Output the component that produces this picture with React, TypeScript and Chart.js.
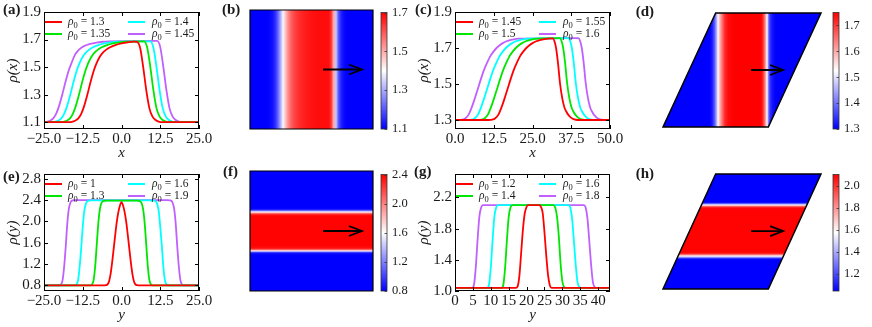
import React, { useEffect, useRef } from 'react';
import { Chart, registerables } from 'chart.js';

Chart.register(...registerables);

const FONT = "'Liberation Serif', 'Times New Roman', serif";
const INK = '#1a1a1a';
const LINE_COLORS = ['#ff0000', '#00e600', '#00ffff', '#c060ff'];

// ---------------- panel (a) ----------------
const aXTicks = [-25, -12.5, 0, 12.5, 25];
const aXTickLabels = ['−25.0', '−12.5', '0.0', '12.5', '25.0'];
const aYTicks = [1.1, 1.3, 1.5, 1.7, 1.9];
const aYTickLabels = ['1.1', '1.3', '1.5', '1.7', '1.9'];
const aLegend = ['1.3', '1.35', '1.4', '1.45'];
const aRho130 = [[-25, 1.1], [-17, 1.1], [-16, 1.102], [-15, 1.11], [-14, 1.125], [-13, 1.16], [-12, 1.22], [-11, 1.3], [-10, 1.39], [-9, 1.47], [-8, 1.53], [-7, 1.575], [-6, 1.605], [-5, 1.625], [-4, 1.64], [-2, 1.66], [0, 1.672], [2, 1.68], [4, 1.685], [5, 1.683], [6, 1.64], [7, 1.5], [8, 1.33], [9, 1.2], [10, 1.14], [11, 1.115], [12, 1.104], [13, 1.1], [25, 1.1]];
const aRho135 = [[-25, 1.1], [-19.7, 1.1], [-18.7, 1.102], [-17.7, 1.11], [-16.7, 1.125], [-15.7, 1.16], [-14.7, 1.22], [-13.7, 1.3], [-12.7, 1.39], [-11.7, 1.47], [-10.7, 1.53], [-9.7, 1.575], [-8.7, 1.605], [-7.7, 1.625], [-6.7, 1.64], [-4.7, 1.66], [-2.7, 1.672], [-0.7, 1.68], [1.3, 1.685], [7.3, 1.686], [8.3, 1.64], [9.3, 1.5], [10.3, 1.33], [11.3, 1.2], [12.3, 1.14], [13.3, 1.115], [14.3, 1.104], [15.3, 1.1], [25, 1.1]];
const aRho140 = [[-25, 1.1], [-22.5, 1.1], [-21.5, 1.102], [-20.5, 1.11], [-19.5, 1.125], [-18.5, 1.16], [-17.5, 1.22], [-16.5, 1.3], [-15.5, 1.39], [-14.5, 1.47], [-13.5, 1.53], [-12.5, 1.575], [-11.5, 1.605], [-10.5, 1.625], [-9.5, 1.64], [-7.5, 1.66], [-5.5, 1.672], [-3.5, 1.68], [-1.5, 1.685], [9.3, 1.687], [10.3, 1.64], [11.3, 1.5], [12.3, 1.33], [13.3, 1.2], [14.3, 1.14], [15.3, 1.115], [16.3, 1.104], [17.3, 1.1], [25, 1.1]];
const aRho145 = [[-25, 1.1], [-24.1, 1.102], [-23.1, 1.11], [-22.1, 1.125], [-21.1, 1.16], [-20.1, 1.22], [-19.1, 1.3], [-18.1, 1.39], [-17.1, 1.47], [-16.1, 1.53], [-15.1, 1.585], [-14.1, 1.618], [-13.1, 1.638], [-12.1, 1.652], [-10.1, 1.668], [-8.1, 1.678], [-6.1, 1.684], [-4.1, 1.687], [11.5, 1.69], [12.5, 1.645], [13.5, 1.5], [14.5, 1.33], [15.5, 1.2], [16.5, 1.14], [17.5, 1.115], [18.5, 1.104], [19.5, 1.1], [25, 1.1]];

// ---------------- panel (b) ----------------
const bProfileX = [[-25, 1.1], [-18.6, 1.1], [-17.6, 1.102], [-16.6, 1.11], [-15.6, 1.125], [-14.6, 1.16], [-13.6, 1.22], [-12.6, 1.3], [-11.6, 1.39], [-10.6, 1.47], [-9.6, 1.53], [-8.6, 1.575], [-7.6, 1.605], [-6.6, 1.625], [-5.6, 1.64], [-3.6, 1.66], [-1.6, 1.672], [0.4, 1.68], [2.4, 1.685], [7, 1.685], [8, 1.64], [9, 1.5], [10, 1.33], [11, 1.2], [12, 1.14], [13, 1.115], [14, 1.104], [15, 1.1], [25, 1.1]];
const bRange = [1.1, 1.7];
const bCbarTicks = [1.1, 1.3, 1.5, 1.7];
const bCbarLabels = ['1.1', '1.3', '1.5', '1.7'];
const bArrow = [4.7, 0, 20.5, 0];

// ---------------- panel (c) ----------------
const cXTicks = [0, 12.5, 25, 37.5, 50];
const cXTickLabels = ['0.0', '12.5', '25.0', '37.5', '50.0'];
const cYTicks = [1.3, 1.5, 1.7, 1.9];
const cYTickLabels = ['1.3', '1.5', '1.7', '1.9'];
const cLegend = ['1.45', '1.5', '1.55', '1.6'];
const cRho145 = [[0, 1.3], [11, 1.3], [12, 1.302], [13, 1.31], [14, 1.33], [15, 1.37], [16, 1.42], [17, 1.475], [18, 1.53], [19, 1.58], [20, 1.62], [21, 1.655], [22, 1.68], [23, 1.7], [24, 1.715], [25, 1.727], [26, 1.736], [28, 1.746], [30, 1.752], [31.5, 1.754], [32, 1.742], [32.6, 1.7], [33.2, 1.62], [33.9, 1.5], [34.6, 1.42], [35.3, 1.37], [35.8, 1.35], [36.5, 1.33], [37.5, 1.312], [38.5, 1.303], [39.5, 1.3], [50, 1.3]];
const cRho150 = [[0, 1.3], [7.6, 1.3], [8.6, 1.302], [9.6, 1.31], [10.6, 1.33], [11.6, 1.37], [12.6, 1.42], [13.6, 1.475], [14.6, 1.53], [15.6, 1.58], [16.6, 1.62], [17.6, 1.655], [18.6, 1.68], [19.6, 1.7], [20.6, 1.715], [21.6, 1.727], [22.6, 1.736], [24.6, 1.746], [26.6, 1.752], [33.8, 1.755], [34.3, 1.742], [34.9, 1.7], [35.5, 1.62], [36.2, 1.5], [36.9, 1.42], [37.6, 1.37], [38.1, 1.35], [38.8, 1.33], [39.8, 1.312], [40.8, 1.303], [41.8, 1.3], [50, 1.3]];
const cRho155 = [[0, 1.3], [4.4, 1.3], [5.4, 1.302], [6.4, 1.31], [7.4, 1.33], [8.4, 1.37], [9.4, 1.42], [10.4, 1.475], [11.4, 1.53], [12.4, 1.58], [13.4, 1.62], [14.4, 1.655], [15.4, 1.68], [16.4, 1.7], [17.4, 1.715], [18.4, 1.727], [19.4, 1.736], [21.4, 1.746], [23.4, 1.752], [36.6, 1.755], [37.1, 1.742], [37.7, 1.7], [38.3, 1.62], [39.0, 1.5], [39.7, 1.42], [40.4, 1.37], [40.9, 1.35], [41.6, 1.33], [42.6, 1.312], [43.6, 1.303], [44.6, 1.3], [50, 1.3]];
const cRho160 = [[0, 1.3], [1.4, 1.3], [2.4, 1.302], [3.4, 1.31], [4.4, 1.33], [5.4, 1.37], [6.4, 1.42], [7.4, 1.475], [8.4, 1.53], [9.4, 1.58], [10.4, 1.62], [11.4, 1.655], [12.4, 1.68], [13.4, 1.7], [14.4, 1.715], [15.4, 1.727], [16.4, 1.736], [18.4, 1.746], [20.4, 1.752], [39.8, 1.755], [40.3, 1.742], [40.9, 1.7], [41.5, 1.62], [42.2, 1.5], [42.9, 1.42], [43.6, 1.37], [44.1, 1.35], [44.8, 1.33], [45.8, 1.312], [46.8, 1.303], [47.8, 1.3], [50, 1.3]];

// ---------------- panel (d) ----------------
const dProfileX = [[-12.5, 1.3], [9.5, 1.3], [10.8, 1.32], [12, 1.38], [13, 1.46], [13.6, 1.525], [14.5, 1.59], [15.5, 1.645], [16.9, 1.715], [18.5, 1.74], [21, 1.752], [33.5, 1.755], [34.3, 1.74], [34.9, 1.715], [35.9, 1.64], [36.9, 1.525], [37.4, 1.44], [37.8, 1.38], [38.5, 1.34], [39.5, 1.315], [41, 1.3], [62.5, 1.3]];
const dRange = [1.3, 1.75];
const dCbarTicks = [1.3, 1.4, 1.5, 1.6, 1.7];
const dCbarLabels = ['1.3', '1.4', '1.5', '1.6', '1.7'];
const dCell = [[-12.5, 0], [37.5, 0], [62.5, 43.3], [12.5, 43.3]];
const dArrow = [29.3, 21.65, 44.5, 21.65];

// ---------------- panel (e) ----------------
const eYTicks = [0.8, 1.2, 1.6, 2.0, 2.4, 2.8];
const eYTickLabels = ['0.8', '1.2', '1.6', '2.0', '2.4', '2.8'];
const eLegend = ['1', '1.3', '1.6', '1.9'];
const eRho10 = [[-25, 0.8], [-6, 0.8], [-5, 0.805], [-4.5, 0.82], [-4, 0.88], [-3.5, 1.02], [-3, 1.24], [-2.5, 1.5], [-2, 1.76], [-1.5, 2.0], [-1, 2.18], [-0.5, 2.3], [0, 2.36], [0.5, 2.3], [1, 2.18], [1.5, 2.0], [2, 1.76], [2.5, 1.5], [3, 1.24], [3.5, 1.02], [4, 0.88], [4.5, 0.82], [5, 0.805], [6, 0.8], [25, 0.8]];
const eRho13 = [[-25, 0.8], [-10, 0.8], [-9.5, 0.82], [-9, 0.9], [-8.5, 1.15], [-8, 1.55], [-7.5, 1.95], [-7, 2.22], [-6.5, 2.34], [-6, 2.38], [-5, 2.39], [5, 2.39], [6, 2.38], [6.5, 2.34], [7, 2.22], [7.5, 1.95], [8, 1.55], [8.5, 1.15], [9, 0.9], [9.5, 0.82], [10, 0.8], [25, 0.8]];
const eRho16 = [[-25, 0.8], [-15, 0.8], [-14.5, 0.82], [-14, 0.9], [-13.5, 1.15], [-13, 1.5], [-12.5, 1.9], [-12, 2.2], [-11.5, 2.33], [-11, 2.38], [-10, 2.395], [10, 2.395], [11, 2.38], [11.5, 2.33], [12, 2.2], [12.5, 1.9], [13, 1.55], [13.5, 1.15], [14, 0.9], [14.5, 0.82], [15, 0.8], [25, 0.8]];
const eRho19 = [[-25, 0.8], [-20, 0.8], [-19.5, 0.82], [-19, 0.9], [-18.5, 1.15], [-18, 1.52], [-17.5, 1.95], [-17, 2.23], [-16.5, 2.35], [-16, 2.39], [-15, 2.4], [15, 2.4], [16, 2.39], [16.5, 2.35], [17, 2.23], [17.5, 1.95], [18, 1.52], [18.5, 1.15], [19, 0.9], [19.5, 0.82], [20, 0.8], [25, 0.8]];

// ---------------- panel (f) ----------------
const fProfileY = [[-25, 0.8], [-10, 0.8], [-9.5, 0.82], [-9, 0.95], [-8.6, 1.3], [-8.3, 1.6], [-8, 1.9], [-7.5, 2.25], [-7, 2.36], [-6, 2.39], [6, 2.39], [6.5, 2.36], [7, 2.25], [7.5, 1.95], [7.9, 1.6], [8.3, 1.3], [8.75, 0.95], [9.2, 0.82], [9.7, 0.8], [25, 0.8]];
const fRange = [0.8, 2.4];
const fCbarTicks = [0.8, 1.2, 1.6, 2.0, 2.4];
const fCbarLabels = ['0.8', '1.2', '1.6', '2.0', '2.4'];
const fArrow = [4.7, 0, 20.5, 0];

// ---------------- panel (g) ----------------
const gXTicks = [0, 5, 10, 15, 20, 25, 30, 35, 40];
const gXTickLabels = ['0', '5', '10', '15', '20', '25', '30', '35', '40'];
const gYTicks = [1.0, 1.4, 1.8, 2.2];
const gYTickLabels = ['1.0', '1.4', '1.8', '2.2'];
const gLegend = ['1.2', '1.4', '1.6', '1.8'];
const gRho12 = [[0, 1.04], [17, 1.04], [17.5, 1.06], [18, 1.2], [18.5, 1.5], [19, 1.8], [19.5, 2.0], [20, 2.08], [20.5, 2.1], [23.5, 2.1], [24, 2.08], [24.5, 2.0], [25, 1.75], [25.5, 1.45], [26, 1.2], [26.5, 1.07], [27, 1.04], [43.3, 1.04]];
const gRho14 = [[0, 1.04], [13, 1.04], [13.5, 1.08], [14, 1.3], [14.5, 1.65], [15, 1.95], [15.5, 2.07], [16, 2.1], [27.5, 2.1], [28, 2.07], [28.5, 1.95], [29, 1.7], [29.5, 1.35], [30, 1.12], [30.5, 1.05], [31, 1.04], [43.3, 1.04]];
const gRho16 = [[0, 1.04], [9, 1.04], [9.5, 1.08], [10, 1.3], [10.5, 1.65], [11, 1.95], [11.5, 2.07], [12, 2.1], [31.7, 2.1], [32.2, 2.07], [32.7, 1.93], [33.2, 1.65], [33.7, 1.35], [34.2, 1.12], [34.7, 1.05], [35.2, 1.04], [43.3, 1.04]];
const gRho18 = [[0, 1.04], [4.8, 1.04], [5.3, 1.08], [5.8, 1.3], [6.3, 1.65], [6.8, 1.95], [7.3, 2.07], [7.8, 2.1], [36, 2.1], [36.5, 2.07], [37, 1.93], [37.5, 1.65], [38, 1.35], [38.5, 1.12], [39, 1.05], [39.5, 1.04], [43.3, 1.04]];

// ---------------- panel (h) ----------------
const hProfileY = [[0, 1.04], [11, 1.04], [11.4, 1.1], [11.9, 1.35], [12.4, 1.575], [12.9, 1.85], [13.3, 2.02], [13.8, 2.09], [14.5, 2.1], [29.6, 2.1], [30.3, 2.09], [30.8, 2.02], [31.2, 1.85], [31.6, 1.575], [32.0, 1.35], [32.4, 1.1], [32.8, 1.04], [43.3, 1.04]];
const hRange = [1.045, 2.105];
const hCbarTicks = [1.2, 1.4, 1.6, 1.8, 2.0];
const hCbarLabels = ['1.2', '1.4', '1.6', '1.8', '2.0'];
const hCell = [[-12.5, 0], [37.5, 0], [62.5, 43.3], [12.5, 43.3]];
const hArrow = [29.3, 21.8, 44.5, 21.8];

// ---------------- helpers ----------------
function bwr(v: number, vmin: number, vmax: number) {
  let t = (v - vmin) / (vmax - vmin);
  t = Math.max(0, Math.min(1, t));
  let r, g, b;
  if (t < 0.5) { r = g = Math.round(510 * t); b = 255; }
  else { r = 255; g = b = Math.round(510 * (1 - t)); }
  return `rgb(${r},${g},${b})`;
}

function frameTicksPlugin(len = 4) {
  return {
    id: 'frameTicks',
    afterDraw(chart: any) {
      const { ctx, chartArea: { left, right, top, bottom }, scales: { x, y } } = chart;
      ctx.save();
      ctx.strokeStyle = '#000';
      ctx.lineWidth = 1;
      ctx.beginPath();
      x.ticks.forEach((t: any) => {
        const px = Math.round(x.getPixelForValue(t.value)) + 0.5;
        ctx.moveTo(px, bottom); ctx.lineTo(px, bottom - len);
        ctx.moveTo(px, top); ctx.lineTo(px, top + len);
      });
      y.ticks.forEach((t: any) => {
        const py = Math.round(y.getPixelForValue(t.value)) + 0.5;
        ctx.moveTo(left, py); ctx.lineTo(left + len, py);
        ctx.moveTo(right, py); ctx.lineTo(right - len, py);
      });
      ctx.stroke();
      ctx.strokeRect(Math.round(left) + 0.5, Math.round(top) + 0.5, Math.round(right - left) - 1, Math.round(bottom - top) - 1);
      ctx.restore();
    },
  };
}

function legendPlugin(labels: string[]) {
  return {
    id: 'rhoLegend',
    afterDatasetsDraw(chart: any) {
      const { ctx, chartArea: { left, top } } = chart;
      ctx.save();
      labels.forEach((lab, i) => {
        const col = Math.floor(i / 2);
        const row = i % 2;
        const hx = left + (col ? 84 : 1);
        const ry = top + (row ? 22 : 10);
        ctx.strokeStyle = LINE_COLORS[i];
        ctx.lineWidth = 2;
        ctx.beginPath(); ctx.moveTo(hx, ry); ctx.lineTo(hx + 17, ry); ctx.stroke();
        let tx = left + (col ? 108 : 24);
        const by = ry + 3;
        ctx.fillStyle = INK;
        ctx.textBaseline = 'alphabetic';
        ctx.textAlign = 'left';
        ctx.font = `italic 11.5px ${FONT}`;
        ctx.fillText('ρ', tx, by);
        tx += ctx.measureText('ρ').width;
        ctx.font = `8.5px ${FONT}`;
        ctx.fillText('0', tx, by + 2.5);
        tx += ctx.measureText('0').width;
        ctx.font = `11.5px ${FONT}`;
        ctx.fillText(' = ' + lab, tx, by);
      });
      ctx.restore();
    },
  };
}

function panelLabelPlugin(text: string, x: number, y: number, align: string) {
  return {
    id: 'panelLabel',
    afterDraw(chart: any) {
      const { ctx } = chart;
      ctx.save();
      ctx.font = `bold 15px ${FONT}`;
      ctx.fillStyle = INK;
      ctx.textAlign = align;
      ctx.textBaseline = 'middle';
      ctx.fillText(text, x, y);
      ctx.restore();
    },
  };
}

function heatPlugin(axis: string, profile: number[][], range: number[], cell: number[][] | null, border: number) {
  return {
    id: 'heat',
    beforeDatasetsDraw(chart: any) {
      const { ctx, scales: { x, y } } = chart;
      const pts = cell || [[x.min, y.min], [x.max, y.min], [x.max, y.max], [x.min, y.max]];
      ctx.save();
      ctx.beginPath();
      pts.forEach(([vx, vy], i) => {
        const px = x.getPixelForValue(vx);
        const py = y.getPixelForValue(vy);
        if (i === 0) ctx.moveTo(px, py); else ctx.lineTo(px, py);
      });
      ctx.closePath();
      const sc = axis === 'x' ? x : y;
      const p0 = sc.getPixelForValue(profile[0][0]);
      const p1 = sc.getPixelForValue(profile[profile.length - 1][0]);
      const grad = axis === 'x' ? ctx.createLinearGradient(p0, 0, p1, 0) : ctx.createLinearGradient(0, p0, 0, p1);
      profile.forEach(([pos, val]) => {
        const off = (sc.getPixelForValue(pos) - p0) / (p1 - p0);
        grad.addColorStop(Math.max(0, Math.min(1, off)), bwr(val, range[0], range[1]));
      });
      ctx.fillStyle = grad;
      ctx.fill();
      ctx.strokeStyle = '#000';
      ctx.lineWidth = border;
      ctx.lineJoin = 'miter';
      ctx.stroke();
      ctx.restore();
    },
  };
}

function arrowPlugin(a: number[]) {
  return {
    id: 'arrow',
    afterDatasetsDraw(chart: any) {
      const { ctx, scales: { x, y } } = chart;
      const x0 = x.getPixelForValue(a[0]), y0 = y.getPixelForValue(a[1]);
      const x1 = x.getPixelForValue(a[2]), y1 = y.getPixelForValue(a[3]);
      const ang = Math.atan2(y1 - y0, x1 - x0);
      const hl = 13, hw = 5;
      ctx.save();
      ctx.strokeStyle = '#000';
      ctx.lineWidth = 1.8;
      ctx.beginPath(); ctx.moveTo(x0, y0); ctx.lineTo(x1, y1); ctx.stroke();
      ctx.beginPath();
      ctx.moveTo(x1 - hl * Math.cos(ang) + hw * Math.sin(ang), y1 - hl * Math.sin(ang) - hw * Math.cos(ang));
      ctx.lineTo(x1, y1);
      ctx.lineTo(x1 - hl * Math.cos(ang) - hw * Math.sin(ang), y1 - hl * Math.sin(ang) + hw * Math.cos(ang));
      ctx.stroke();
      ctx.restore();
    },
  };
}

function cbarPlugin(range: number[]) {
  return {
    id: 'cbar',
    beforeDatasetsDraw(chart: any) {
      const { ctx, chartArea: { left, right, top, bottom }, scales: { y } } = chart;
      const [vmin, vmax] = range;
      const pb = y.getPixelForValue(vmin), pt = y.getPixelForValue(vmax);
      const g = ctx.createLinearGradient(0, pb, 0, pt);
      g.addColorStop(0, bwr(vmin, vmin, vmax));
      g.addColorStop(0.5, bwr((vmin + vmax) / 2, vmin, vmax));
      g.addColorStop(1, bwr(vmax, vmin, vmax));
      ctx.save();
      ctx.fillStyle = g;
      ctx.fillRect(left, top, right - left, bottom - top);
      ctx.strokeStyle = '#333';
      ctx.lineWidth = 0.8;
      ctx.strokeRect(left, top, right - left, bottom - top);
      ctx.beginPath();
      y.ticks.forEach((t: any) => {
        const py = Math.round(y.getPixelForValue(t.value)) + 0.5;
        ctx.moveTo(right, py); ctx.lineTo(right - 2.5, py);
      });
      ctx.stroke();
      ctx.restore();
    },
  };
}

const tickFont = { family: FONT, size: 15 };
const titleFont = { family: FONT, size: 15, style: 'italic' as const };

function lineConfig(s: any): any {
  return {
    type: 'line',
    data: {
      datasets: s.series.map((pts: number[][], i: number) => ({
        data: pts.map(([x, y]) => ({ x, y })),
        borderColor: LINE_COLORS[i],
        borderWidth: 1.8,
        pointRadius: 0,
        cubicInterpolationMode: 'monotone',
        fill: false,
      })),
    },
    options: {
      responsive: false,
      animation: false,
      events: [],
      layout: { padding: { left: 0, top: 10, right: 16, bottom: 0 } },
      plugins: { legend: { display: false }, tooltip: { enabled: false } },
      scales: {
        x: {
          type: 'linear', min: s.xMin, max: s.xMax,
          afterBuildTicks: (sc: any) => { sc.ticks = s.xTicks.map((v: number) => ({ value: v })); },
          afterFit: (sc: any) => { sc.height = 34; },
          grid: { display: false, drawTicks: false },
          border: { display: false },
          ticks: { autoSkip: false, maxRotation: 0, padding: 1, font: tickFont, color: INK, callback: (_v: any, i: number) => s.xLabels[i] },
          title: { display: true, text: s.xTitle, font: titleFont, color: INK, padding: { top: 0, bottom: 1 } },
        },
        y: {
          type: 'linear', min: s.yMin, max: s.yMax,
          afterBuildTicks: (sc: any) => { sc.ticks = s.yTicks.map((v: number) => ({ value: v })); },
          afterFit: (sc: any) => { sc.width = 44; },
          grid: { display: false, drawTicks: false },
          border: { display: false },
          ticks: { autoSkip: false, padding: 3, font: tickFont, color: INK, callback: (_v: any, i: number) => s.yLabels[i] },
          title: { display: true, text: s.yTitle, font: titleFont, color: INK, padding: { top: 4, bottom: 0 } },
        },
      },
    },
    plugins: [legendPlugin(s.legend), frameTicksPlugin(4), panelLabelPlugin(s.label, s.labelX, s.labelY, 'left')],
  };
}

function heatConfig(s: any): any {
  return {
    type: 'scatter',
    data: { datasets: [] },
    options: {
      responsive: false,
      animation: false,
      events: [],
      layout: { padding: s.pad },
      plugins: { legend: { display: false }, tooltip: { enabled: false } },
      scales: {
        x: { type: 'linear', display: false, min: s.xMin, max: s.xMax },
        y: { type: 'linear', display: false, min: s.yMin, max: s.yMax },
      },
    },
    plugins: [
      heatPlugin(s.axis, s.profile, s.range, s.cell, s.border),
      arrowPlugin(s.arrow),
      panelLabelPlugin(s.label, s.labelX, s.labelY, s.labelAlign),
    ],
  };
}

function cbarConfig(s: any): any {
  return {
    type: 'scatter',
    data: { datasets: [] },
    options: {
      responsive: false,
      animation: false,
      events: [],
      layout: { padding: s.pad },
      plugins: { legend: { display: false }, tooltip: { enabled: false } },
      scales: {
        x: { type: 'linear', display: false, min: 0, max: 1 },
        y: {
          type: 'linear', position: 'right', min: s.range[0], max: s.range[1],
          afterBuildTicks: (sc: any) => { sc.ticks = s.ticks.map((v: number) => ({ value: v })); },
          afterFit: (sc: any) => { sc.width = s.axisW; },
          grid: { display: false, drawTicks: false },
          border: { display: false },
          ticks: { autoSkip: false, padding: 5, font: { family: FONT, size: 12.5 }, color: INK, callback: (_v: any, i: number) => s.labels[i] },
        },
      },
    },
    plugins: [cbarPlugin(s.range)],
  };
}

function ChartBox({ left, top, width, height, config }: any) {
  const ref = useRef<HTMLCanvasElement | null>(null);
  useEffect(() => {
    const chart = new Chart(ref.current as HTMLCanvasElement, config());
    return () => chart.destroy();
  }, []);
  return <canvas ref={ref} width={width} height={height} style={{ position: 'absolute', left, top, width, height }} />;
}

export default function App() {
  const pA = () => lineConfig({ label: '(a)', labelX: 3, labelY: 10, xMin: -25, xMax: 25, yMin: 1.05, yMax: 1.9, xTicks: aXTicks, xLabels: aXTickLabels, yTicks: aYTicks, yLabels: aYTickLabels, xTitle: 'x', yTitle: 'ρ(x)', series: [aRho130, aRho135, aRho140, aRho145], legend: aLegend });
  const pC = () => lineConfig({ label: '(c)', labelX: 4, labelY: 10, xMin: 0, xMax: 50, yMin: 1.25, yMax: 1.9, xTicks: cXTicks, xLabels: cXTickLabels, yTicks: cYTicks, yLabels: cYTickLabels, xTitle: 'x', yTitle: 'ρ(x)', series: [cRho145, cRho150, cRho155, cRho160], legend: cLegend });
  const pE = () => lineConfig({ label: '(e)', labelX: 3, labelY: 15, xMin: -25, xMax: 25, yMin: 0.695, yMax: 2.89, xTicks: aXTicks, xLabels: aXTickLabels, yTicks: eYTicks, yLabels: eYTickLabels, xTitle: 'y', yTitle: 'ρ(y)', series: [eRho10, eRho13, eRho16, eRho19], legend: eLegend });
  const pG = () => lineConfig({ label: '(g)', labelX: 3, labelY: 10, xMin: 0, xMax: 43.3, yMin: 1.0, yMax: 2.5, xTicks: gXTicks, xLabels: gXTickLabels, yTicks: gYTicks, yLabels: gYTickLabels, xTitle: 'y', yTitle: 'ρ(y)', series: [gRho12, gRho14, gRho16, gRho18], legend: gLegend });

  const pB = () => heatConfig({ pad: { left: 30, right: 7, top: 10, bottom: 34 }, xMin: -25, xMax: 25, yMin: -25, yMax: 25, axis: 'x', profile: bProfileX, range: bRange, cell: null, border: 1.2, arrow: bArrow, label: '(b)', labelX: 2, labelY: 10.5, labelAlign: 'left' });
  const pF = () => heatConfig({ pad: { left: 30, right: 7, top: 9, bottom: 34 }, xMin: -25, xMax: 25, yMin: -25, yMax: 25, axis: 'y', profile: fProfileY, range: fRange, cell: null, border: 1.2, arrow: fArrow, label: '(f)', labelX: 3, labelY: 10, labelAlign: 'left' });
  const pD = () => heatConfig({ pad: { left: 35, right: 4, top: 13, bottom: 36 }, xMin: -12.5, xMax: 62.5, yMin: 0, yMax: 43.3, axis: 'x', profile: dProfileX, range: dRange, cell: dCell, border: 1.5, arrow: dArrow, label: '(d)', labelX: 26, labelY: 12.5, labelAlign: 'right' });
  const pH = () => heatConfig({ pad: { left: 35, right: 4, top: 12, bottom: 36 }, xMin: -12.5, xMax: 62.5, yMin: 0, yMax: 43.3, axis: 'y', profile: hProfileY, range: hRange, cell: hCell, border: 1.5, arrow: hArrow, label: '(h)', labelX: 26, labelY: 12, labelAlign: 'right' });

  const cbB = () => cbarConfig({ pad: { left: 6, right: 0, top: 10, bottom: 34 }, axisW: 28, range: bRange, ticks: bCbarTicks, labels: bCbarLabels });
  const cbF = () => cbarConfig({ pad: { left: 6, right: 0, top: 9, bottom: 34 }, axisW: 28, range: fRange, ticks: fCbarTicks, labels: fCbarLabels });
  const cbD = () => cbarConfig({ pad: { left: 6, right: 0, top: 10, bottom: 34 }, axisW: 33, range: dRange, ticks: dCbarTicks, labels: dCbarLabels });
  const cbH = () => cbarConfig({ pad: { left: 6, right: 0, top: 10, bottom: 34 }, axisW: 33, range: hRange, ticks: hCbarTicks, labels: hCbarLabels });

  return (
    <div style={{ position: 'absolute', left: 0, top: 0, width: 872, height: 327, background: '#fff', overflow: 'hidden' }}>
      <ChartBox left={0} top={0} width={215} height={163} config={pA} />
      <ChartBox left={220} top={0} width={160} height={163} config={pB} />
      <ChartBox left={375} top={0} width={40} height={163} config={cbB} />
      <ChartBox left={411} top={0} width={215} height={163} config={pC} />
      <ChartBox left={628} top={0} width={197} height={163} config={pD} />
      <ChartBox left={827} top={0} width={45} height={163} config={cbD} />
      <ChartBox left={0} top={162} width={215} height={163} config={pE} />
      <ChartBox left={220} top={162} width={160} height={163} config={pF} />
      <ChartBox left={375} top={162} width={40} height={163} config={cbF} />
      <ChartBox left={411} top={162} width={215} height={163} config={pG} />
      <ChartBox left={628} top={162} width={197} height={163} config={pH} />
      <ChartBox left={827} top={162} width={45} height={163} config={cbH} />
    </div>
  );
}
